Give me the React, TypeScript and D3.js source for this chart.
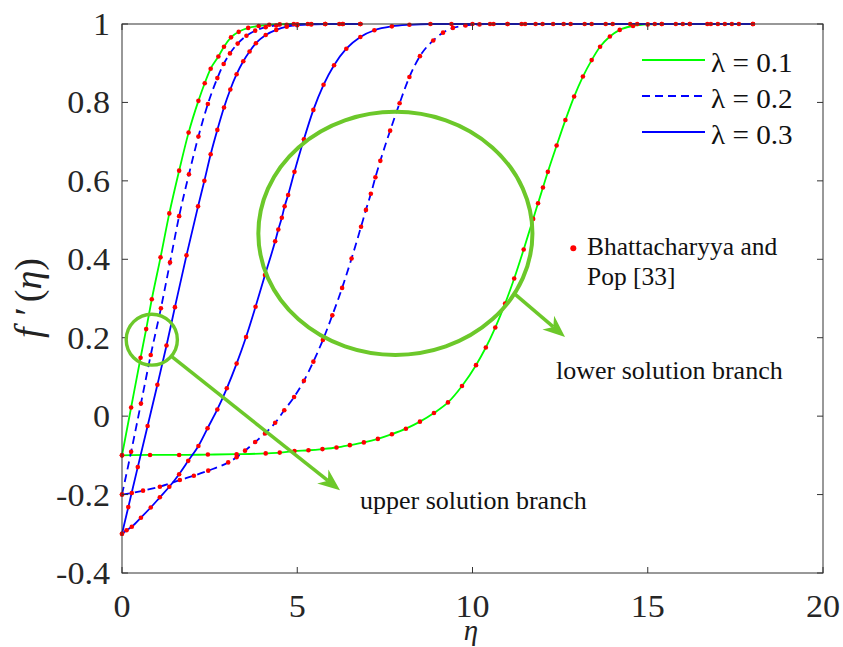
import React from "react";
import * as d3 from "d3";

// ---------- data ----------
const X_TICKS = [0, 5, 10, 15, 20];
const X_TICK_LABELS = ["0", "5", "10", "15", "20"];
const Y_TICKS = [-0.4, -0.2, 0, 0.2, 0.4, 0.6, 0.8, 1];
const Y_TICK_LABELS = ["-0.4", "-0.2", "0", "0.2", "0.4", "0.6", "0.8", "1"];

// lambda = 0.1, upper branch
const ETA_UP_01 = [0, 0.26, 0.53, 0.69, 0.85, 1.1, 1.35, 1.63, 1.9, 2.18, 2.36, 2.53, 2.75, 2.91, 3.11, 3.33, 3.6, 3.9, 4.2, 4.5, 4.9, 5.3, 5.8, 6.3, 6.8];
const F_UP_01 = [-0.1, 0.022, 0.149, 0.222, 0.298, 0.405, 0.517, 0.626, 0.723, 0.804, 0.849, 0.886, 0.917, 0.942, 0.966, 0.98, 0.99, 0.995, 0.998, 0.999, 1, 1, 1, 1, 1];
// lambda = 0.1, lower branch
const ETA_LOW_01 = [0, 0.8, 1.63, 2.45, 3.27, 4.1, 4.5, 4.92, 5.32, 5.72, 6.12, 6.5, 6.9, 7.3, 7.7, 8.1, 8.5, 8.9, 9.3, 9.7, 10.1, 10.38, 10.65, 10.93, 11.19, 11.46, 11.73, 11.87, 12.01, 12.15, 12.4, 12.65, 12.9, 13.15, 13.4, 13.64, 13.92, 14.2, 14.58, 15.0, 15.4, 15.8, 16.2, 16.7, 17.2, 17.6, 18.0];
const F_LOW_01 = [-0.1, -0.099, -0.099, -0.098, -0.097, -0.095, -0.093, -0.089, -0.087, -0.084, -0.08, -0.074, -0.067, -0.058, -0.046, -0.032, -0.014, 0.008, 0.035, 0.077, 0.13, 0.175, 0.226, 0.287, 0.351, 0.425, 0.503, 0.543, 0.583, 0.623, 0.69, 0.755, 0.815, 0.866, 0.908, 0.942, 0.968, 0.985, 0.995, 0.999, 1, 1, 1, 1, 1, 1, 1];

// lambda = 0.2, upper branch
const ETA_UP_02 = [0, 0.26, 0.54, 0.82, 1.11, 1.37, 1.63, 1.91, 2.18, 2.45, 2.72, 2.9, 3.08, 3.3, 3.55, 3.8, 4.1, 4.4, 4.7, 5.0, 5.4, 5.8, 6.2, 6.8];
const F_UP_02 = [-0.2, -0.091, 0.032, 0.156, 0.275, 0.392, 0.51, 0.617, 0.713, 0.796, 0.862, 0.898, 0.925, 0.95, 0.97, 0.983, 0.992, 0.996, 0.998, 0.999, 1, 1, 1, 1];
// lambda = 0.2, lower branch
const ETA_LOW_02 = [0, 0.28, 0.6, 1.08, 1.65, 2.05, 2.46, 3.03, 3.27, 3.51, 3.8, 4.08, 4.37, 4.63, 4.91, 5.19, 5.46, 5.73, 6.0, 6.28, 6.55, 6.82, 6.96, 7.1, 7.23, 7.37, 7.65, 7.92, 8.2, 8.5, 8.88, 9.16, 9.44, 9.8, 10.2, 10.6, 11.0, 11.4, 11.8, 12.3, 12.8, 13.4, 14.0, 14.7, 15.4, 16.2, 17.0, 18.0];
const F_LOW_02 = [-0.2, -0.196, -0.19, -0.18, -0.163, -0.152, -0.139, -0.118, -0.105, -0.088, -0.066, -0.044, -0.017, 0.015, 0.049, 0.09, 0.139, 0.194, 0.257, 0.327, 0.402, 0.483, 0.526, 0.567, 0.609, 0.651, 0.728, 0.798, 0.865, 0.918, 0.958, 0.978, 0.99, 0.996, 0.999, 1, 1, 1, 1, 1, 1, 1, 1, 1, 1, 1, 1, 1];

// lambda = 0.3, upper branch
const ETA_UP_03 = [0, 0.18, 0.45, 0.73, 1.01, 1.27, 1.51, 1.84, 2.17, 2.35, 2.53, 2.72, 2.91, 3.09, 3.27, 3.46, 3.64, 3.82, 4.1, 4.4, 4.7, 5.0, 5.4, 5.8, 6.3, 6.8];
const F_UP_03 = [-0.3, -0.232, -0.13, -0.025, 0.08, 0.18, 0.278, 0.41, 0.535, 0.6, 0.668, 0.73, 0.787, 0.833, 0.872, 0.905, 0.93, 0.951, 0.972, 0.985, 0.993, 0.997, 0.999, 1, 1, 1];
// lambda = 0.3, lower branch
const ETA_LOW_03 = [0, 0.13, 0.28, 0.54, 0.82, 1.08, 1.35, 1.63, 1.89, 2.18, 2.44, 2.72, 2.99, 3.27, 3.54, 3.81, 4.08, 4.37, 4.46, 4.56, 4.64, 4.74, 4.92, 5.19, 5.46, 5.75, 6.05, 6.4, 6.8, 7.2, 7.7, 8.2, 8.8, 9.4, 10.0, 10.5, 11.0, 11.5, 12.0, 12.6, 13.2, 13.8, 14.5, 15.2, 16.0, 16.8, 17.4, 18.0];
const F_LOW_03 = [-0.3, -0.291, -0.282, -0.259, -0.233, -0.207, -0.18, -0.148, -0.114, -0.076, -0.031, 0.017, 0.071, 0.134, 0.202, 0.279, 0.36, 0.446, 0.476, 0.506, 0.535, 0.564, 0.623, 0.706, 0.781, 0.845, 0.895, 0.937, 0.967, 0.984, 0.994, 0.998, 1, 1, 1, 1, 1, 1, 1, 1, 1, 1, 1, 1, 1, 1, 1, 1];

const LEGEND_LABELS = ["\u03bb = 0.1", "\u03bb = 0.2", "\u03bb = 0.3"];
const REF_LABEL = ["Bhattacharyya and", "Pop [33]"];

// ---------- layout ----------
const W = 843;
const H = 647;
const X0 = 122, X1 = 823, Y0 = 24, Y1 = 573;
const GREEN = "#00ff00";
const BLUE = "#0000ff";
const RED = "#ff0000";
const ANN = "#6cc82a";
const FONT = "'Liberation Serif', 'Times New Roman', Times, serif";
const TXT = { fontFamily: FONT } as React.CSSProperties;

const x = d3.scaleLinear().domain([0, 20]).range([X0, X1]);
const y = d3.scaleLinear().domain([-0.4, 1]).range([Y1, Y0]);

type Series = { eta: number[]; f: number[]; color: string; dash?: string };
const SERIES: Series[] = [
  { eta: ETA_UP_01, f: F_UP_01, color: GREEN },
  { eta: ETA_LOW_01, f: F_LOW_01, color: GREEN },
  { eta: ETA_UP_02, f: F_UP_02, color: BLUE, dash: "8,5" },
  { eta: ETA_LOW_02, f: F_LOW_02, color: BLUE, dash: "8,5" },
  { eta: ETA_UP_03, f: F_UP_03, color: BLUE },
  { eta: ETA_LOW_03, f: F_LOW_03, color: BLUE },
];

const line = d3
  .line<[number, number]>()
  .x((d) => x(d[0]))
  .y((d) => y(d[1]))
  .curve(d3.curveMonotoneX);

function arrow(e0: number, f0: number, e1: number, f1: number) {
  const sx = x(e0), sy = y(f0), tx = x(e1), ty = y(f1);
  const dx = tx - sx, dy = ty - sy;
  const len = Math.hypot(dx, dy);
  const ux = dx / len, uy = dy / len;
  const nx = -uy, ny = ux;
  const L = 22, w = 9;
  const bx = tx - L * ux, by = ty - L * uy;
  const mx = tx - 0.7 * L * ux, my = ty - 0.7 * L * uy;
  const head = `M${tx},${ty}L${bx + w * nx},${by + w * ny}L${mx},${my}L${bx - w * nx},${by - w * ny}Z`;
  return { sx, sy, mx, my, head };
}

const ARROW_UP = arrow(1.43, 0.151, 6.22, -0.189);
const ARROW_LOW = arrow(11.21, 0.311, 12.64, 0.202);

export default function App() {
  return (
    <svg
      width={W}
      height={H}
      style={{ position: "absolute", left: 0, top: 0, background: "#fff", fontFamily: FONT }}
    >
      <rect x={0} y={0} width={W} height={H} fill="#fff" />
      {/* curves */}
      {SERIES.map((s, i) => (
        <path
          key={"l" + i}
          d={line(s.eta.map((e, k) => [e, s.f[k]] as [number, number])) || ""}
          fill="none"
          stroke={s.color}
          strokeWidth={1.8}
          strokeDasharray={s.dash}
        />
      ))}
      {/* reference points */}
      {SERIES.map((s, i) =>
        s.eta.map((e, k) => (
          <circle key={"d" + i + "-" + k} cx={x(e)} cy={y(s.f[k])} r={2.3} fill={RED} />
        ))
      )}
      {/* axes box */}
      <rect x={X0} y={Y0} width={X1 - X0} height={Y1 - Y0} fill="none" stroke="#333" strokeWidth={1} />
      {X_TICKS.map((t, i) => (
        <line key={"xt" + i} x1={x(t)} x2={x(t)} y1={Y1} y2={Y1 - 6} stroke="#333" />
      ))}
      {X_TICKS.map((t, i) => (
        <line key={"xtt" + i} x1={x(t)} x2={x(t)} y1={Y0} y2={Y0 + 6} stroke="#333" />
      ))}
      {X_TICKS.map((t, i) => (
        <text
          key={"xl" + i}
          style={TXT}
          transform={`translate(${x(t)},617) scale(1.1,1)`}
          textAnchor="middle"
          fontSize={31}
          fill="#262626"
        >
          {X_TICK_LABELS[i]}
        </text>
      ))}
      {Y_TICKS.map((t, i) => (
        <line key={"yt" + i} x1={X0} x2={X0 + 6} y1={y(t)} y2={y(t)} stroke="#333" />
      ))}
      {Y_TICKS.map((t, i) => (
        <line key={"ytr" + i} x1={X1} x2={X1 - 6} y1={y(t)} y2={y(t)} stroke="#333" />
      ))}
      {Y_TICKS.map((t, i) => (
        <text
          key={"yl" + i}
          style={TXT}
          transform={`translate(110,${y(t) + 11}) scale(1.1,1)`}
          textAnchor="end"
          fontSize={31}
          fill="#262626"
        >
          {Y_TICK_LABELS[i]}
        </text>
      ))}
      {/* axis labels */}
      <text style={TXT} x={471} y={640} textAnchor="middle" fontSize={29} fontStyle="italic" fill="#222">
        η
      </text>
      <text style={TXT} transform="translate(41,298) rotate(-90)" x={0} y={0} textAnchor="middle" fontSize={38} fill="#222">
        <tspan fontStyle="italic">f</tspan>
        <tspan dx={12}>{"\u2032"}</tspan>
        <tspan dx={5}>(</tspan>
        <tspan fontStyle="italic">η</tspan>
        <tspan>)</tspan>
      </text>
      {/* legend */}
      {LEGEND_LABELS.map((lab, i) => (
        <line
          key={"lgl" + i}
          x1={642}
          x2={705}
          y1={60 + i * 36}
          y2={60 + i * 36}
          stroke={i === 0 ? GREEN : BLUE}
          strokeWidth={2}
          strokeDasharray={i === 1 ? "8,5" : undefined}
        />
      ))}
      {LEGEND_LABELS.map((lab, i) => (
        <text key={"lgt" + i} style={TXT} transform={`translate(711,${60 + i * 36 + 11.5}) scale(1.08,1)`} fontSize={27} fill="#111">
          {lab}
        </text>
      ))}
      <circle cx={573.3} cy={248.3} r={3} fill={RED} />
      {REF_LABEL.map((t, i) => (
        <text key={"rl" + i} style={TXT} transform={`translate(587,${255 + i * 30}) scale(1.04,1)`} fontSize={24.5} fill="#111">
          {t}
        </text>
      ))}
      {/* annotations */}
      <ellipse cx={x(7.8)} cy={y(0.466)} rx={x(3.91) - x(0)} ry={y(0) - y(0.31)} fill="none" stroke={ANN} strokeWidth={4} />
      <ellipse cx={x(0.85)} cy={y(0.195)} rx={x(0.73) - x(0)} ry={y(0) - y(0.065)} fill="none" stroke={ANN} strokeWidth={3.4} />
      <line x1={ARROW_UP.sx} y1={ARROW_UP.sy} x2={ARROW_UP.mx} y2={ARROW_UP.my} stroke={ANN} strokeWidth={3.5} />
      <path d={ARROW_UP.head} fill={ANN} />
      <line x1={ARROW_LOW.sx} y1={ARROW_LOW.sy} x2={ARROW_LOW.mx} y2={ARROW_LOW.my} stroke={ANN} strokeWidth={3.5} />
      <path d={ARROW_LOW.head} fill={ANN} />
      <text style={TXT} transform="translate(360,509) scale(1.04,1)" fontSize={25} fill="#111">
        upper solution branch
      </text>
      <text style={TXT} transform="translate(556,379) scale(1.04,1)" fontSize={25} fill="#111">
        lower solution branch
      </text>
    </svg>
  );
}
